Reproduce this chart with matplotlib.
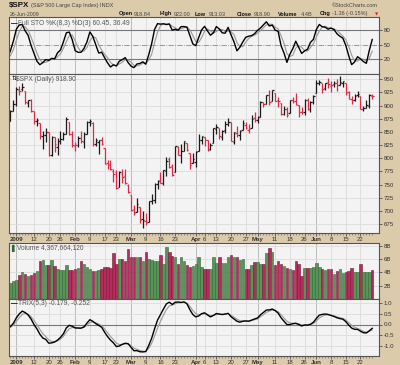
import numpy as np
import pandas as pd
import matplotlib
matplotlib.use("Agg")
import matplotlib.pyplot as plt

# $SPX daily bars, 1-Dec-2008 .. 26-Jun-2009
# (the 20 December bars before the 30th only warm the indicators up, they sit left of the plot)
opens = [
    888.61, 817.94, 843.60, 869.75, 844.43, 882.71, 906.48, 892.17, 898.35, 871.79,
    881.07, 871.53, 908.16, 905.98, 886.96, 887.20, 874.31, 863.87, 869.51, 872.37,
    870.58, 890.59,
    902.99, 929.17, 931.17, 927.45, 905.73, 909.91, 890.40, 869.79, 867.28, 841.99,
    844.45, 849.64, 806.77, 839.74, 822.16, 832.50, 837.30, 845.73, 868.89, 845.69,
    823.09, 825.69, 837.77, 831.75, 846.09, 868.24, 866.87, 827.41, 830.95, 833.95,
    818.61, 791.06, 787.91, 775.87, 773.25, 744.69, 770.64, 765.76, 749.93,
    729.57, 704.44, 698.60, 708.27, 684.04, 680.76, 679.28, 719.59, 720.89, 751.97,
    758.84, 753.88, 776.01, 797.92, 784.58, 772.97, 820.60, 806.81, 814.06, 828.68,
    809.07, 790.88,
    793.59, 814.53, 835.13, 839.75, 834.12, 816.76, 829.29, 855.33, 856.88, 839.44,
    854.54, 865.18, 868.27, 831.25, 847.26, 844.62, 853.91, 862.82, 854.48, 856.85,
    876.59,
    872.74, 879.21, 906.10, 903.95, 919.58, 909.03, 922.99, 910.52, 905.40, 884.24,
    892.76, 886.07, 909.67, 908.62, 901.83, 888.68, 887.00, 909.95, 892.96, 907.02,
    923.26, 942.87, 942.51, 932.49, 945.67, 938.12, 940.35, 942.73, 939.04, 943.44,
    942.45, 925.60, 911.89, 910.86, 919.96, 918.13, 893.46, 896.31, 899.45, 918.84,
]
highs = [
    888.61, 850.54, 873.12, 875.60, 879.42, 918.57, 916.26, 908.27, 904.63, 883.24,
    884.63, 914.66, 908.16, 911.02, 905.47, 887.37, 880.44, 869.79, 873.74, 873.70,
    891.12, 910.32,
    934.73, 936.63, 943.85, 927.45, 910.00, 911.93, 890.40, 877.02, 867.28, 851.59,
    858.13, 849.64, 841.72, 839.74, 838.61, 852.53, 850.45, 877.86, 868.89, 851.66,
    830.78, 842.60, 851.85, 850.55, 870.75, 875.01, 868.05, 838.22, 835.13, 839.43,
    818.61, 796.17, 797.58, 778.69, 777.85, 775.49, 780.12, 779.42, 751.27,
    729.57, 711.67, 724.12, 708.27, 699.09, 695.27, 719.60, 731.92, 752.63, 758.29,
    774.53, 778.12, 803.04, 803.24, 788.91, 823.37, 823.65, 826.78, 832.98, 828.68,
    809.07, 810.48,
    813.62, 845.61, 842.50, 839.75, 834.12, 828.42, 856.91, 864.31, 856.88, 852.93,
    870.35, 875.63, 868.27, 850.09, 861.78, 852.87, 871.80, 868.83, 864.48, 882.06,
    888.70,
    880.48, 907.85, 907.70, 920.28, 929.58, 930.17, 922.99, 915.57, 905.40, 898.36,
    896.97, 910.00, 916.39, 924.60, 901.83, 896.65, 911.76, 913.84, 909.45, 920.02,
    947.77, 949.38, 942.51, 942.47, 951.69, 946.33, 946.92, 949.77, 956.23, 946.30,
    942.45, 928.00, 918.44, 921.93, 927.09, 918.13, 898.69, 910.85, 921.42, 922.00,
]
lows = [
    815.69, 817.94, 827.60, 833.60, 818.41, 882.71, 885.38, 885.45, 868.73, 851.35,
    857.72, 871.53, 895.93, 877.44, 883.02, 857.09, 860.10, 861.44, 866.52, 857.07,
    870.58, 889.67,
    899.35, 919.53, 927.28, 902.37, 896.81, 888.31, 864.32, 862.02, 836.93, 817.04,
    830.66, 804.47, 804.30, 811.29, 806.07, 827.69, 835.40, 845.73, 844.15, 821.67,
    812.87, 821.98, 829.18, 819.91, 845.42, 861.65, 822.99, 822.30, 808.06, 825.21,
    789.17, 780.43, 777.03, 754.25, 742.37, 744.69, 752.89, 751.75, 734.52,
    699.70, 692.30, 698.60, 677.93, 666.79, 672.88, 679.28, 713.85, 714.76, 742.46,
    753.37, 749.93, 765.64, 781.82, 766.20, 772.97, 805.48, 791.37, 814.06, 813.43,
    779.81, 790.88,
    783.32, 814.53, 826.70, 822.79, 814.53, 814.84, 829.29, 845.35, 836.31, 835.58,
    847.04, 860.87, 832.39, 826.83, 840.57, 835.45, 853.91, 854.65, 847.12, 856.85,
    868.51,
    866.10, 879.21, 897.34, 903.95, 901.36, 909.03, 908.68, 896.46, 882.80, 882.52,
    878.94, 886.07, 905.22, 901.37, 878.09, 883.75, 881.46, 891.87, 887.60, 903.56,
    923.26, 938.46, 923.85, 929.32, 934.13, 926.44, 936.15, 927.97, 939.04, 935.66,
    919.65, 911.60, 903.78, 907.94, 915.80, 893.04, 888.86, 896.31, 896.27, 913.03,
]
closes = [
    816.21, 848.81, 870.74, 845.22, 876.07, 909.70, 888.67, 899.24, 873.59, 879.73,
    868.57, 913.18, 904.42, 885.28, 887.88, 871.63, 863.16, 868.15, 872.80, 869.42,
    890.64, 903.25,
    931.80, 927.45, 934.70, 906.65, 909.73, 890.35, 870.26, 871.79, 842.62, 843.74,
    850.12, 805.22, 840.24, 827.50, 831.95, 836.57, 845.71, 874.09, 845.14, 825.88,
    825.44, 838.51, 832.23, 845.85, 868.60, 869.89, 827.16, 833.74, 835.19, 826.84,
    789.17, 788.42, 778.94, 770.05, 743.33, 773.14, 764.90, 752.83, 735.09,
    700.82, 696.33, 712.87, 682.55, 683.38, 676.53, 719.60, 721.36, 750.74, 756.55,
    753.89, 778.12, 794.35, 784.04, 768.54, 822.92, 806.12, 813.88, 832.86, 815.94,
    787.53, 797.87,
    811.08, 834.38, 842.50, 835.48, 815.55, 825.16, 856.56, 858.73, 841.50, 852.06,
    865.30, 869.60, 832.39, 850.08, 843.55, 851.92, 866.23, 857.51, 855.16, 873.64,
    872.81,
    877.52, 907.24, 903.80, 919.53, 907.39, 929.23, 909.24, 908.35, 883.92, 893.07,
    882.88, 909.71, 908.13, 903.47, 888.33, 887.00, 910.33, 893.06, 906.83, 919.14,
    942.87, 944.74, 931.76, 942.46, 940.09, 939.14, 942.43, 939.15, 944.89, 946.21,
    923.72, 911.97, 910.71, 918.37, 921.23, 893.04, 895.10, 900.94, 920.26, 918.90,
]
# volume in billions, visible bars only (30-Dec-2008 onward)
volume_b = [
    2.4, 2.7, 2.9, 3.6, 4.0, 3.7, 3.5, 3.6, 3.9, 4.3,
    5.7, 5.9, 5.2, 5.1, 5.9, 5.0, 4.6, 4.4, 4.4, 5.2,
    4.4, 4.4, 4.6, 4.7, 5.7, 5.3, 4.9, 4.5, 4.2, 4.2,
    4.4, 4.6, 4.8, 4.8, 4.7, 6.9, 5.3, 6.0, 6.1, 5.7,
    7.5, 6.4, 6.3, 6.3, 6.3, 5.8, 7.1, 6.0, 5.9, 5.8,
    5.7, 6.7, 5.3, 7.8, 7.1, 6.5, 6.4, 5.3, 6.4, 5.8,
    5.1, 4.9, 5.0, 5.3, 6.3, 4.9, 4.5, 4.6, 4.6, 6.4,
    5.5, 6.4, 5.4, 5.4, 6.3, 6.6, 6.4, 6.3, 5.9, 6.0,
    4.6, 4.6, 5.2, 5.6, 5.6, 5.3, 5.3, 6.9, 7.7, 7.1,
    5.2, 5.7, 5.3, 5.0, 4.7, 4.6, 4.4, 5.8, 5.3, 3.5,
    4.7, 4.7, 4.7, 4.8, 5.4, 4.9, 4.6, 4.4, 4.5, 4.5,
    3.7, 4.2, 4.6, 3.9, 4.0, 4.2, 4.7, 4.0, 4.1, 5.3,
    4.1, 4.1, 4.1, 4.37,
]
holidays = ["2008-12-25", "2009-01-01", "2009-01-19", "2009-02-16", "2009-04-10", "2009-05-25"]
week_ticks = ["2009-01-12", "2009-01-20", "2009-01-26", "2009-02-09", "2009-02-17", "2009-02-23",
              "2009-03-09", "2009-03-16", "2009-03-23", "2009-04-06", "2009-04-13", "2009-04-20",
              "2009-04-27", "2009-05-11", "2009-05-18", "2009-05-26", "2009-06-08", "2009-06-15",
              "2009-06-22"]
month_ticks = ["2009-01-02", "2009-02-02", "2009-03-02", "2009-04-01", "2009-05-01", "2009-06-01"]
month_names = ["2009", "Feb", "Mar", "Apr", "May", "Jun"]
price_ticks = [675, 700, 725, 750, 775, 800, 825, 850, 875, 900, 925, 950]
sto_ticks = [20, 50, 80]
vol_ticks = [2, 4, 6, 8]
vol_labels = ["2B", "4B", "6B", "8B"]
trix_ticks = [-1.0, -0.5, 0.0, 0.5, 1.0]

TAN = "#dccbab"
PANEL = "#f3f3f3"
UP = "#1a1a1a"
DOWN = "#de2a44"
GREEN = "#5a925a"
GREEN_E = "#2f6a33"
RED = "#b42c5c"
RED_E = "#7a1638"
TXT = "#333333"
LBL = "#555555"

dates = pd.bdate_range("2008-12-01", "2009-06-26")
dates = dates[~dates.isin(pd.to_datetime(holidays))]
o = pd.Series(opens); h = pd.Series(highs); l = pd.Series(lows); c = pd.Series(closes)
skip = len(c) - len(volume_b)
x = np.arange(len(c)) - skip
pos = {d: xi for d, xi in zip(dates.strftime("%Y-%m-%d"), x)}

# Full STO %K(8,3) %D(3) and TRIX(5,3) from the bars
ll = l.rolling(8).min(); hh = h.rolling(8).max()
k = ((c - ll) / (hh - ll) * 100).rolling(3).mean()
dline = k.rolling(3).mean()
e = c
for _ in range(3):
    e = e.ewm(span=5, adjust=False).mean()
trix = e.pct_change() * 100
sig = trix.ewm(span=3, adjust=False).mean()

up = (c > c.shift(1)).values

plt.rcParams["font.family"] = ["Liberation Sans", "DejaVu Sans"]
fig = plt.figure(figsize=(4, 3.65), dpi=100, facecolor=TAN)


def px_axes(x0, y0, x1, y1):
    return fig.add_axes([x0 / 400, 1 - y1 / 365, (x1 - x0) / 400, (y1 - y0) / 365])


ax_sto = px_axes(9, 17, 379, 74)
ax_px = px_axes(9, 74, 379, 233)
ax_vol = px_axes(9, 243, 379, 299)
ax_trix = px_axes(9, 299, 379, 356)

wk = [pos[d] for d in week_ticks]
mo = [pos[d] for d in month_ticks]
all_ticks = sorted(wk + mo)
tick_text = {p: str(int(d[-2:])) for p, d in zip(wk, week_ticks)}
tick_text.update({p: n for p, n in zip(mo, month_names)})

for ax in (ax_sto, ax_px, ax_vol, ax_trix):
    ax.set_facecolor(PANEL)
    ax.set_xlim(-0.5, 125.3)
    ax.yaxis.tick_right()
    ax.tick_params(axis="y", labelsize=4.4, colors=TXT, length=2, width=0.5, pad=1.2)
    for s in ax.spines.values():
        s.set_color("#555555")
        s.set_linewidth(0.8)
    for p in wk:
        ax.axvline(p, color="#dcdcdc", lw=0.6, zorder=0)
    for p in mo:
        ax.axvline(p, color="#bbbbbb", lw=0.7, zorder=0)
    ax.set_xticks(all_ticks)
    ax.set_xticks(x[x >= 0], minor=True)
    ax.tick_params(axis="x", which="major", length=2, width=0.5, pad=1.2, labelsize=4.4, colors=TXT)
    ax.tick_params(axis="x", which="minor", length=1.2, width=0.4, colors="#555555")
    ax.set_xticklabels([])

for ax in (ax_px, ax_trix):
    ax.set_xticklabels([tick_text[p] for p in all_ticks])
    for lab, p in zip(ax.get_xticklabels(), all_ticks):
        if p in mo:
            lab.set_fontweight("bold")

# --- stochastics
ax_sto.set_ylim(-11, 107)
ax_sto.set_yticks(sto_ticks)
ax_sto.axhline(80, color="#777777", lw=0.8)
ax_sto.axhline(20, color="#777777", lw=0.8)
ax_sto.axhline(50, color="#888888", lw=0.6, ls="-.")
ax_sto.plot(x, dline, color="#999999", lw=0.8)
ax_sto.plot(x, k, color="black", lw=1.0)
ax_sto.text(0.006, 0.95, "\u2014", transform=ax_sto.transAxes, fontsize=4.8, fontweight="bold", va="top")
ax_sto.text(0.024, 0.95, "Full STO %K(8,3) %D(3) 60.45, 36.49",
            transform=ax_sto.transAxes, fontsize=4.8, color=LBL, va="top")

# --- price bars
ax_px.set_ylim(658, 960)
ax_px.set_yticks(price_ticks)
for t in price_ticks:
    ax_px.axhline(t, color="#dcdcdc", lw=0.6, zorder=0)
cols = np.where(up, UP, DOWN)
ax_px.vlines(x, l, h, colors=cols, lw=0.9)
ax_px.hlines(o, x - 0.5, x, colors=cols, lw=0.9)
ax_px.hlines(c, x, x + 0.5, colors=cols, lw=0.9)
ax_px.text(0.006, 0.985, "\u21c5", transform=ax_px.transAxes, fontsize=4.5, va="top",
           family="DejaVu Sans")
ax_px.text(0.019, 0.985, "$SPX (Daily) 918.90", transform=ax_px.transAxes,
           fontsize=4.8, color=LBL, va="top")

# --- volume
xv = x[skip:]
upv = up[skip:]
ax_vol.set_ylim(0, 8.45)
ax_vol.set_yticks(vol_ticks)
ax_vol.set_yticklabels(vol_labels)
for t in vol_ticks:
    ax_vol.axhline(t, color="#dcdcdc", lw=0.6, zorder=0)
ax_vol.bar(xv, volume_b, width=0.85, color=np.where(upv, GREEN, RED),
           edgecolor=np.where(upv, GREEN_E, RED_E), linewidth=0.4)
ax_vol.text(0.007, 0.975, "\u258c", transform=ax_vol.transAxes, fontsize=5, color=GREEN_E, va="top",
            family="DejaVu Sans")
ax_vol.text(0.022, 0.975, "Volume 4,367,664,120", transform=ax_vol.transAxes,
            fontsize=4.8, color=LBL, va="top")

# --- TRIX
ax_trix.set_ylim(-1.47, 1.19)
ax_trix.set_yticks(trix_ticks)
ax_trix.set_yticklabels([f"{t:.1f}" for t in trix_ticks])
for t in trix_ticks:
    ax_trix.axhline(t, color="#dcdcdc", lw=0.6, zorder=0)
ax_trix.axhline(0, color="#777777", lw=0.8)
ax_trix.plot(x, sig, color="#999999", lw=0.8)
ax_trix.plot(x, trix, color="black", lw=1.0)
ax_trix.text(0.006, 0.975, "\u2014", transform=ax_trix.transAxes, fontsize=4.8, fontweight="bold", va="top")
ax_trix.text(0.024, 0.975, "TRIX(5,3) -0.179, -0.252",
             transform=ax_trix.transAxes, fontsize=4.8, color=LBL, va="top")

# --- header
fig.text(9 / 400, 1 - 5.5 / 365, "$SPX", fontsize=5.8, fontweight="bold", va="center", color="#111111")
fig.text(31 / 400, 1 - 5.5 / 365, "(S&P 500 Large Cap Index) INDX", fontsize=4, va="center", color="#444444")
fig.text(10 / 400, 1 - 14 / 365, "26-Jun-2009", fontsize=3.8, va="center", color="#444444")
fig.text(378 / 400, 1 - 5.5 / 365, "\u00a9StockCharts.com", fontsize=4, va="center", ha="right", color="#444444")
hdr = [("Open", 119), ("918.84", 134), ("High", 160), ("922.00", 174), ("Low", 195), ("913.03", 209),
       ("Close", 237), ("918.90", 254), ("Volume", 278), ("4.4B", 301), ("Chg", 320), ("-1.36 (-0.15%)", 332)]
for i, (t, xp) in enumerate(hdr):
    fig.text(xp / 400, 1 - 14 / 365, t, fontsize=4, va="center",
             fontweight="bold" if i % 2 == 0 else "normal", color="#111111" if i % 2 == 0 else "#444444")
fig.text(375 / 400, 1 - 14 / 365, "\u25bc", fontsize=3, va="center", color="#cc2222", family="DejaVu Sans")

fig.savefig("out.png", dpi=100, facecolor=TAN)
